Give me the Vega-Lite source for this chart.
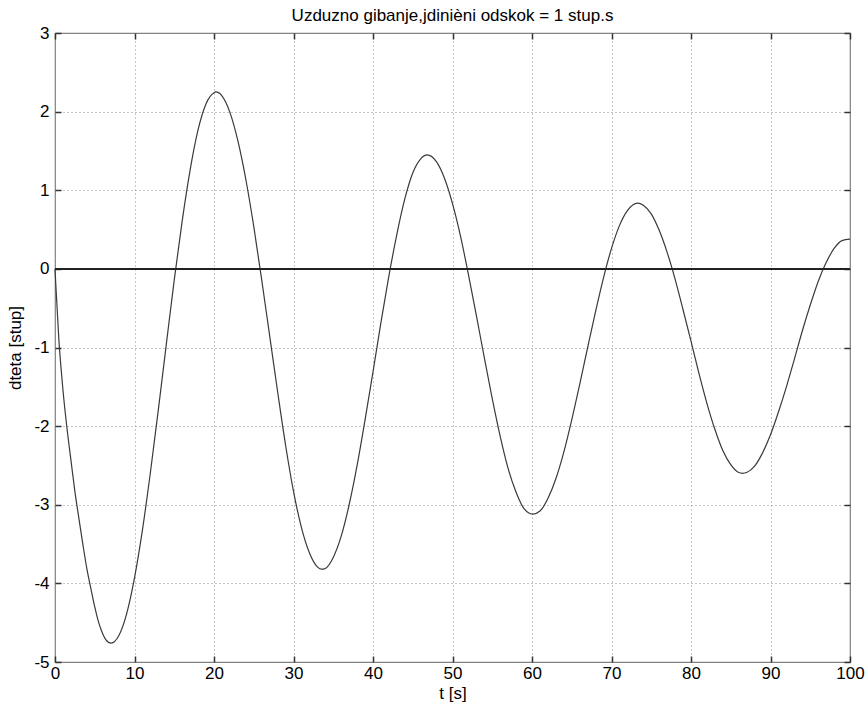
{
  "$schema": "https://vega.github.io/schema/vega-lite/v6.json",
  "width": 795,
  "height": 629,
  "autosize": {"type": "none"},
  "padding": {"left": 55, "top": 33, "right": 15, "bottom": 47},
  "background": "white",
  "title": {
    "text": "Uzduzno gibanje,jdinièni odskok = 1 stup.s",
    "font": "Liberation Sans",
    "fontSize": 17,
    "fontWeight": "normal",
    "color": "#000000",
    "anchor": "middle",
    "frame": "group",
    "offset": -1
  },
  "config": {
    "view": {"stroke": "#808080", "strokeWidth": 1.2},
    "axis": {
      "labelFont": "Liberation Sans",
      "labelFontSize": 17,
      "labelColor": "#000000",
      "titleFont": "Liberation Sans",
      "titleFontSize": 17,
      "titleFontWeight": "normal",
      "titleColor": "#000000",
      "domain": false,
      "tickColor": "#333333",
      "tickSize": -6,
      "tickWidth": 1.5,
      "gridColor": "#8c8c8c",
      "gridDash": [1, 3],
      "gridWidth": 1,
      "gridOpacity": 1
    }
  },
  "datasets": {
    "curve": [
      {"t": 0, "y": 0}, {"t": 0.1, "y": -0.2}, {"t": 0.25, "y": -0.47}, {"t": 0.5, "y": -0.92},
      {"t": 0.75, "y": -1.25}, {"t": 1, "y": -1.54}, {"t": 1.5, "y": -2.02}, {"t": 2, "y": -2.43},
      {"t": 2.5, "y": -2.83}, {"t": 3, "y": -3.17}, {"t": 3.5, "y": -3.5}, {"t": 4, "y": -3.81},
      {"t": 4.5, "y": -4.06}, {"t": 5, "y": -4.3}, {"t": 5.5, "y": -4.5}, {"t": 6, "y": -4.64},
      {"t": 6.5, "y": -4.73}, {"t": 7.05, "y": -4.76}, {"t": 8, "y": -4.67}, {"t": 9, "y": -4.39},
      {"t": 10, "y": -3.93}, {"t": 11, "y": -3.32}, {"t": 12, "y": -2.59}, {"t": 13, "y": -1.79},
      {"t": 14, "y": -0.96}, {"t": 15, "y": -0.14}, {"t": 16, "y": 0.61}, {"t": 17, "y": 1.26},
      {"t": 18, "y": 1.77}, {"t": 19, "y": 2.1}, {"t": 20, "y": 2.24}, {"t": 20.24, "y": 2.25},
      {"t": 21, "y": 2.2}, {"t": 22, "y": 1.99}, {"t": 23, "y": 1.63}, {"t": 24, "y": 1.14},
      {"t": 25, "y": 0.54}, {"t": 26, "y": -0.14}, {"t": 27, "y": -0.85}, {"t": 28, "y": -1.56},
      {"t": 29, "y": -2.24}, {"t": 30, "y": -2.83}, {"t": 31, "y": -3.29}, {"t": 32, "y": -3.61},
      {"t": 33, "y": -3.79}, {"t": 33.59, "y": -3.82}, {"t": 34, "y": -3.81}, {"t": 35, "y": -3.67},
      {"t": 36, "y": -3.4}, {"t": 37, "y": -3.0}, {"t": 38, "y": -2.5}, {"t": 39, "y": -1.92},
      {"t": 40, "y": -1.31}, {"t": 41, "y": -0.68}, {"t": 42, "y": -0.09}, {"t": 43, "y": 0.44},
      {"t": 44, "y": 0.89}, {"t": 45, "y": 1.22}, {"t": 46, "y": 1.4}, {"t": 46.8, "y": 1.45},
      {"t": 48, "y": 1.36}, {"t": 49, "y": 1.15}, {"t": 50, "y": 0.83}, {"t": 51, "y": 0.42},
      {"t": 52, "y": -0.07}, {"t": 53, "y": -0.59}, {"t": 54, "y": -1.13}, {"t": 55, "y": -1.65},
      {"t": 56, "y": -2.13}, {"t": 57, "y": -2.54}, {"t": 58, "y": -2.84}, {"t": 59, "y": -3.05},
      {"t": 60.1, "y": -3.12}, {"t": 61, "y": -3.08}, {"t": 62, "y": -2.92}, {"t": 63, "y": -2.67},
      {"t": 64, "y": -2.33}, {"t": 65, "y": -1.92}, {"t": 66, "y": -1.47}, {"t": 67, "y": -1.0},
      {"t": 68, "y": -0.54}, {"t": 69, "y": -0.11}, {"t": 70, "y": 0.26}, {"t": 71, "y": 0.55},
      {"t": 72, "y": 0.74}, {"t": 73.3, "y": 0.836}, {"t": 74, "y": 0.81}, {"t": 75, "y": 0.7},
      {"t": 76, "y": 0.49}, {"t": 77, "y": 0.21}, {"t": 78, "y": -0.13}, {"t": 79, "y": -0.52},
      {"t": 80, "y": -0.92}, {"t": 81, "y": -1.33}, {"t": 82, "y": -1.71}, {"t": 83, "y": -2.04},
      {"t": 84, "y": -2.31}, {"t": 85, "y": -2.49}, {"t": 86, "y": -2.59}, {"t": 86.5, "y": -2.6},
      {"t": 87, "y": -2.59}, {"t": 88, "y": -2.51}, {"t": 89, "y": -2.34}, {"t": 90, "y": -2.11},
      {"t": 91, "y": -1.82}, {"t": 92, "y": -1.5}, {"t": 93, "y": -1.15}, {"t": 94, "y": -0.79},
      {"t": 95, "y": -0.46}, {"t": 96, "y": -0.16}, {"t": 97, "y": 0.08}, {"t": 98, "y": 0.26},
      {"t": 99, "y": 0.36}, {"t": 100, "y": 0.378}
    ]
  },
  "data": {"name": "curve"},
  "resolve": {"axis": {"x": "independent", "y": "independent"}},
  "layer": [
    {
      "mark": {"type": "line", "color": "#3a3a3a", "strokeWidth": 1.2, "interpolate": "monotone"},
      "encoding": {
        "x": {
          "field": "t", "type": "quantitative",
          "scale": {"domain": [0, 100], "nice": false, "zero": false},
          "axis": {"orient": "bottom", "values": [0, 10, 20, 30, 40, 50, 60, 70, 80, 90, 100], "labelExpr": "'' + datum.value", "grid": true, "labelPadding": 9, "labelFlush": false, "title": "t [s]", "titlePadding": 4}
        },
        "y": {
          "field": "y", "type": "quantitative",
          "scale": {"domain": [-5, 3], "nice": false, "zero": false},
          "axis": {"orient": "left", "values": [-5, -4, -3, -2, -1, 0, 1, 2, 3], "labelExpr": "'' + datum.value", "grid": true, "labelPadding": 12, "labelFlush": false, "title": "dteta [stup]", "titlePadding": 9}
        }
      }
    },
    {
      "mark": {"type": "rule", "color": "#222222", "strokeWidth": 1.6},
      "encoding": {"y": {"datum": 0, "axis": null}}
    },
    {
      "mark": {"type": "point", "opacity": 0},
      "encoding": {
        "x": {"field": "t", "type": "quantitative", "axis": {"orient": "top", "values": [0, 10, 20, 30, 40, 50, 60, 70, 80, 90, 100], "labels": false, "grid": false, "title": null}},
        "y": {"field": "y", "type": "quantitative", "axis": {"orient": "right", "values": [-5, -4, -3, -2, -1, 0, 1, 2, 3], "labels": false, "grid": false, "title": null}}
      }
    }
  ]
}
